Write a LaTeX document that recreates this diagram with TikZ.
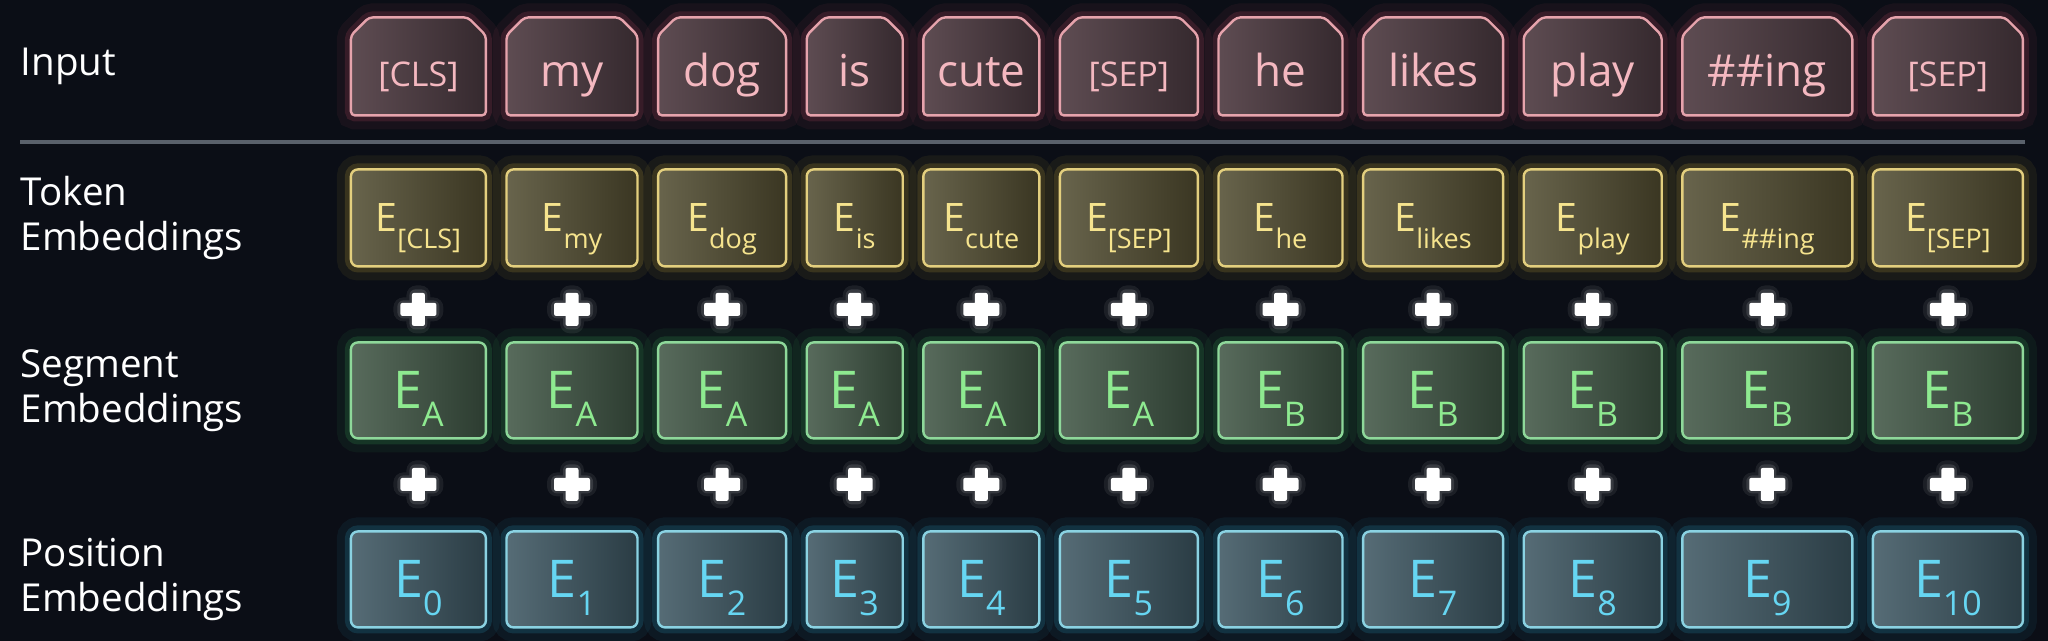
\documentclass[tikz,border=0pt]{standalone}
\usepackage{fontspec}
\setmainfont{Open Sans}
\usetikzlibrary{matrix,positioning,shapes.misc}

\definecolor{bg}{HTML}{0B0E16}
\definecolor{sepline}{HTML}{5A616B}
\definecolor{inline}{HTML}{E6A3AC}
\definecolor{inhi}{HTML}{5E4C52}
\definecolor{inlo}{HTML}{35292E}
\definecolor{intxt}{HTML}{F4B8C0}
\definecolor{inglow}{HTML}{D0506A}
\definecolor{tokline}{HTML}{E3CF7E}
\definecolor{tokhi}{HTML}{68644C}
\definecolor{toklo}{HTML}{3A3622}
\definecolor{toktxt}{HTML}{F6E48E}
\definecolor{tokglow}{HTML}{D8B840}
\definecolor{segline}{HTML}{8ED89A}
\definecolor{seghi}{HTML}{586B5C}
\definecolor{seglo}{HTML}{2C3C30}
\definecolor{segtxt}{HTML}{8EEA90}
\definecolor{segglow}{HTML}{40C060}
\definecolor{posline}{HTML}{8AD2E2}
\definecolor{poshi}{HTML}{566C76}
\definecolor{poslo}{HTML}{2A3C44}
\definecolor{postxt}{HTML}{66D6F2}
\definecolor{posglow}{HTML}{30B0D8}

% E with a lowered subscript
\newcommand{\tokE}[1]{E\smash{\raisebox{-8.5pt}{\fontsize{13.5}{14}\selectfont #1}}}
\newcommand{\bigE}[1]{E\smash{\raisebox{-9pt}{\fontsize{17}{18}\selectfont #1}}}

\begin{document}
\begin{tikzpicture}[
     % define styles
     lbl/.style={
         text=white,
         font=\fontsize{19.25}{22.5}\selectfont,
         text width=154pt, align=left, inner sep=0pt
     },
     emb/.style={
         draw=#1line, line width=1.2pt, rounded corners=3.5pt,
         left color=#1hi, right color=#1lo, text=#1txt,
         preaction={draw=#1glow, line width=14pt, draw opacity=.07, overlay},
         preaction={draw=#1glow, line width=6pt, draw opacity=.17, overlay}
     },
     inbox/.style={
         emb=in, chamfered rectangle, rounded corners=2pt,
         chamfered rectangle corners={north west,north east},
         chamfered rectangle xsep=4.5pt, chamfered rectangle ysep=4.5pt,
         minimum height=49pt, text height=22pt, text depth=2pt,
         font=\fontsize{22}{24}\selectfont
     },
     brk/.style={font=\fontsize{17}{18}\selectfont},
     tokbox/.style={emb=tok, minimum height=48.5pt, font=\fontsize{19.6}{22}\selectfont},
     segbox/.style={emb=seg, minimum height=48pt, font=\fontsize{26}{28}\selectfont},
     posbox/.style={emb=pos, minimum height=48pt, font=\fontsize{26}{28}\selectfont},
     plus/.style={
         minimum height=26pt,
         path picture={
             \fill[white, opacity=.07, rounded corners=5pt]
                 (path picture bounding box.center) ++(-12.5pt,-6pt) rectangle ++(25pt,12pt)
                 (path picture bounding box.center) ++(-6pt,-12pt) rectangle ++(12pt,24pt);
             \fill[white, opacity=.12, rounded corners=3pt]
                 (path picture bounding box.center) ++(-10.5pt,-4.5pt) rectangle ++(21pt,9pt)
                 (path picture bounding box.center) ++(-4.5pt,-10pt) rectangle ++(9pt,20pt);
             \fill[white, rounded corners=1pt]
                 (path picture bounding box.center) ++(-9pt,-3.25pt) rectangle ++(18pt,6.5pt)
                 (path picture bounding box.center) ++(-3.25pt,-8.25pt) rectangle ++(6.5pt,16.5pt);
         }
     },
     rule/.style={draw=sepline, line width=2pt},
     net/.style={
         matrix of nodes,
         inner sep=0pt,
         nodes={inner sep=0pt, anchor=center},
         nodes in empty cells,
         column sep=9.1pt,
         row 1/.style={nodes=inbox},
         row 2/.style={nodes=tokbox},
         row 3/.style={nodes=plus},
         row 4/.style={nodes=segbox},
         row 5/.style={nodes=plus},
         row 6/.style={nodes=posbox},
         column 1/.style={nodes={minimum width=67.5pt}},
         column 2/.style={nodes={minimum width=65.5pt}},
         column 3/.style={nodes={minimum width=64pt}},
         column 4/.style={nodes={minimum width=48pt}},
         column 5/.style={nodes={minimum width=58pt}},
         column 6/.style={nodes={minimum width=69pt}},
         column 7/.style={nodes={minimum width=62pt}},
         column 8/.style={nodes={minimum width=70pt}},
         column 9/.style={nodes={minimum width=69pt}},
         column 10/.style={nodes={minimum width=85pt}},
         column 11/.style={nodes={minimum width=75pt}}
     }
]
\useasboundingbox[fill=bg] (0,0) rectangle (1024pt,-320.5pt);

% one column per token, one row per embedding
\matrix[net, anchor=north west] (mat) at (174.65pt,-7.9pt)
{
|[brk]| {[CLS]} & my & dog & is & cute & |[brk]| {[SEP]} & he & likes & play & \#\#ing & |[brk]| {[SEP]} \\[25.8pt]
\tokE{[CLS]} & \tokE{my} & \tokE{dog} & \tokE{is} & \tokE{cute} & \tokE{[SEP]} & \tokE{he} & \tokE{likes} & \tokE{play} & \tokE{\#\#ing} & \tokE{[SEP]} \\[7.9pt]
 & & & & & & & & & & \\[2.9pt]
\bigE{A} & \bigE{A} & \bigE{A} & \bigE{A} & \bigE{A} & \bigE{A} & \bigE{B} & \bigE{B} & \bigE{B} & \bigE{B} & \bigE{B} \\[9.4pt]
 & & & & & & & & & & \\[9.9pt]
\bigE{0} & \bigE{1} & \bigE{2} & \bigE{3} & \bigE{4} & \bigE{5} & \bigE{6} & \bigE{7} & \bigE{8} & \bigE{9} & \bigE{10} \\
};

% row headings
\node[lbl, left=10.3pt of mat-1-1] (lbl-in) {Input};
\node[lbl, left=10.3pt of mat-2-1] (lbl-tok) {Token\\Embeddings};
\node[lbl, left=10.3pt of mat-4-1] (lbl-seg) {Segment\\Embeddings};
\node[lbl, left=10.3pt of mat-6-1] (lbl-pos) {Position\\Embeddings};

% rule under the input row
\path (mat-1-1.south) -- (mat-2-1.north) coordinate[midway] (gap);
\draw[rule] (lbl-in.west |- gap) -- (mat.east |- gap);
\end{tikzpicture}
\end{document}
